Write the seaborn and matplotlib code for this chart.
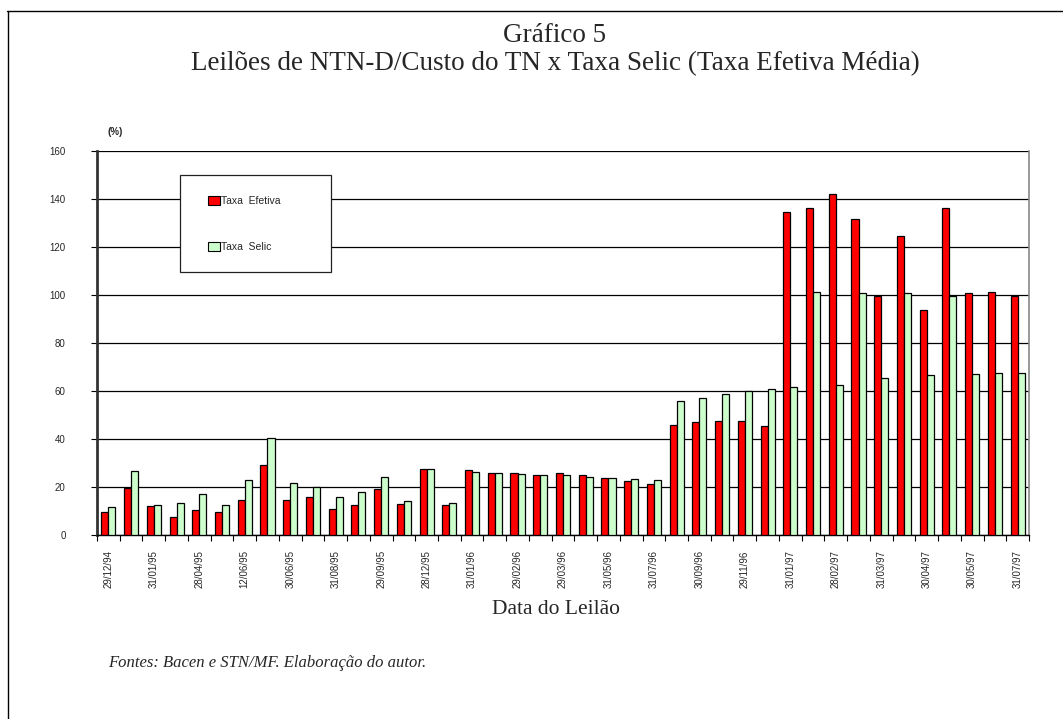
import numpy as np
import pandas as pd
import matplotlib
matplotlib.use("Agg")
import matplotlib.pyplot as plt
from matplotlib.lines import Line2D
from matplotlib.patches import Rectangle, Patch
import seaborn as sns

# ---------------- data ----------------
tick_labels = ["29/12/94", "", "31/01/95", "", "28/04/95", "", "12/06/95", "",
               "30/06/95", "", "31/08/95", "", "29/09/95", "", "28/12/95", "",
               "31/01/96", "", "29/02/96", "", "29/03/96", "", "31/05/96", "",
               "31/07/96", "", "30/09/96", "", "29/11/96", "", "31/01/97", "",
               "28/02/97", "", "31/03/97", "", "30/04/97", "", "30/05/97", "",
               "31/07/97"]
taxa_efetiva = [9.7, 19.4, 12.2, 7.4, 10.6, 9.7, 14.4, 29.0, 14.7, 15.7,
                11.0, 12.6, 19.0, 13.1, 27.6, 12.6, 26.9, 25.7, 25.7, 25.1,
                26.0, 24.9, 23.8, 22.4, 21.1, 46.0, 46.9, 47.5, 47.5, 45.5,
                134.5, 136.4, 142.2, 131.5, 99.7, 124.7, 93.7, 136.2, 100.7, 101.3,
                99.7]
taxa_selic = [11.5, 26.8, 12.4, 13.3, 17.2, 12.6, 22.8, 40.3, 21.8, 19.9,
              15.7, 17.9, 24.3, 14.0, 27.5, 13.2, 26.4, 25.7, 25.4, 25.1,
              24.9, 24.3, 23.8, 23.5, 23.1, 56.0, 57.0, 58.6, 60.0, 60.9,
              61.6, 101.4, 62.7, 101.0, 65.5, 100.7, 66.6, 99.7, 67.1, 67.4,
              67.4]
series_names = ["Taxa  Efetiva", "Taxa  Selic"]
series_colors = ["#FF0000", "#CCFFCC"]

n = len(tick_labels)
df = pd.DataFrame({
    "idx": list(range(n)) * 2,
    "valor": taxa_efetiva + taxa_selic,
    "serie": [series_names[0]] * n + [series_names[1]] * n,
})

# ---------------- figure ----------------
sns.set_theme(style="white")
plt.rcParams["font.family"] = ["Liberation Sans", "DejaVu Sans"]
serif = ["Liberation Serif", "DejaVu Serif"]

W, H = 1063, 719
fig = plt.figure(figsize=(W / 100, H / 100), dpi=100)
fig.patch.set_facecolor("white")

def fx(px):
    return px / W

def fy(py):
    return 1 - py / H

ax = fig.add_axes([fx(97), fy(535), fx(1029) - fx(97), fy(151) - fy(535)])

sns.barplot(data=df, x="idx", y="valor", hue="serie", order=list(range(n)),
            hue_order=series_names, palette=series_colors, width=0.62, gap=0,
            edgecolor="black", linewidth=0.9, saturation=1, legend=False, ax=ax,
            zorder=3)

ax.set_xlim(-0.5, n - 0.5)
ax.set_ylim(0, 160)
ax.set_yticks(np.arange(0, 161, 20))
ax.set_yticklabels([str(v) for v in range(0, 161, 20)], fontsize=7)
ax.tick_params(axis="y", which="major", length=4.5, width=0.8, color="black",
               direction="out", pad=18, left=True)

ax.set_xticks(range(n))
ax.set_xticklabels(tick_labels, rotation=90, fontsize=7, va="top", ha="center")
ax.set_xticks(np.arange(-0.5, n, 1.0), minor=True)
ax.tick_params(axis="x", which="major", length=0, pad=11)
ax.tick_params(axis="x", which="minor", length=4, width=0.8, color="black",
               direction="out", bottom=True)
ax.set_xlabel("")
ax.set_ylabel("")

ax.yaxis.grid(True, color="black", linewidth=0.9, zorder=0)
ax.xaxis.grid(False)
ax.set_axisbelow(True)
ax.spines["top"].set_visible(False)
ax.spines["left"].set_color("#333333")
ax.spines["left"].set_linewidth(2.0)
ax.spines["bottom"].set_color("black")
ax.spines["bottom"].set_linewidth(1.0)
ax.spines["right"].set_color("#888888")
ax.spines["right"].set_linewidth(1.2)

# legend box + legend
fig.patches.append(Rectangle((fx(180), fy(272)), fx(331) - fx(180), fy(175) - fy(272),
                             transform=fig.transFigure, facecolor="white",
                             edgecolor="#222222", linewidth=0.9, zorder=5))
handles = [Patch(facecolor=c, edgecolor="black", linewidth=0.8) for c in series_colors]
leg = fig.legend(handles, series_names, loc="upper left",
                 bbox_to_anchor=(fx(203), fy(191)), frameon=False,
                 fontsize=7.5, handlelength=1.1, handleheight=0.9,
                 handletextpad=0.15, labelspacing=3.45, borderpad=0)
leg.set_zorder(6)

# texts
fig.text(fx(555), fy(36), "Gráfico 5", family=serif, fontsize=19.5,
         ha="center", va="center")
fig.text(fx(555), fy(64), "Leilões de NTN-D/Custo do TN x Taxa Selic (Taxa Efetiva Média)",
         family=serif, fontsize=19.5, ha="center", va="center")
fig.text(fx(108), fy(132), "(%)", fontsize=7, fontweight="bold", ha="left", va="center")
fig.text(fx(556), fy(610), "Data do Leilão", family=serif, fontsize=15.5,
         ha="center", va="center")
fig.text(fx(108), fy(663), "Fontes: Bacen e STN/MF. Elaboração do autor.",
         family=serif, fontsize=12, style="italic", ha="left", va="center")

# outer border (top and left visible)
fig.add_artist(Line2D([fx(7), 1.0], [fy(11), fy(11)], color="black", linewidth=1.0,
                      transform=fig.transFigure))
fig.add_artist(Line2D([fx(7.5), fx(7.5)], [fy(11), 0.0], color="black", linewidth=1.0,
                      transform=fig.transFigure))

fig.savefig("out.png", dpi=100, facecolor="white")
